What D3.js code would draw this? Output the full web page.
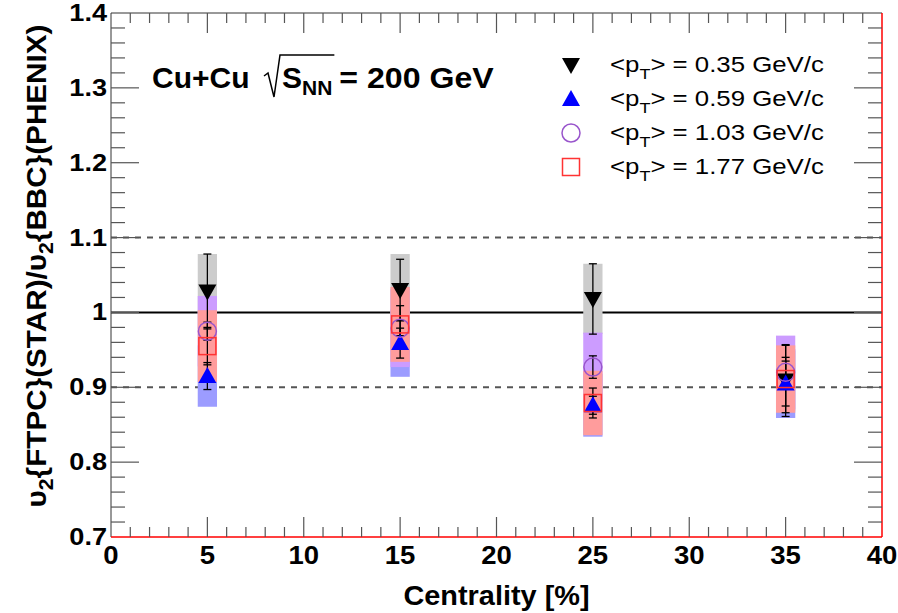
<!DOCTYPE html>
<html>
<head>
<meta charset="utf-8">
<script src="https://cdn.jsdelivr.net/npm/d3@7"></script>
<style>
  body { margin: 0; background: #fff; }
  text { font-family: "Liberation Sans", Arial, sans-serif; }
</style>
</head>
<body>
<div id="chart"></div>
<script>
// centrality bins and ratio values per <pT> bin
var centrality = [5, 15, 25, 35];
var ptLabels = ["0.35", "0.59", "1.03", "1.77"];

var ratio035 = [1.028, 1.030, 1.018, 0.909];
var stat035 = [0.050, 0.041, 0.047, 0.048];
var sys035 = [0.050, 0.048, 0.047, 0.040];

var ratio059 = [0.915, 0.959, 0.876, 0.905];
var stat059 = [0.018, 0.020, 0.012, 0.030];
var sys059 = [0.041, 0.045, 0.042, 0.046];

var ratio103 = [0.975, 0.979, 0.927, 0.920];
var stat103 = [0.012, 0.010, 0.015, 0.020];
var sys103 = [0.047, 0.052, 0.046, 0.049];

var ratio177 = [0.955, 0.984, 0.879, 0.911];
var stat177 = [0.025, 0.025, 0.020, 0.045];
var sys177 = [0.048, 0.050, 0.043, 0.045];

var xTicks = [0, 5, 10, 15, 20, 25, 30, 35, 40];
var yTicks = [0.7, 0.8, 0.9, 1, 1.1, 1.2, 1.3, 1.4];
var refLines = [0.9, 1.0, 1.1];

var width = 898, height = 613;
var fL = 111, fR = 882, fT = 13, fB = 537;
var sx = 1.1; // horizontal stretch of the text

var x = d3.scaleLinear().domain([0, 40]).range([fL, fR]);
var y = d3.scaleLinear().domain([0.7, 1.4]).range([fB, fT]);

var svg = d3.select('#chart').append('svg').attr('width', width).attr('height', height);

// series in drawing order of the systematic boxes
var series = [
    {v: ratio035, stat: stat035, sys: sys035, box: '#cccccc', marker: 'down'},
    {v: ratio059, stat: stat059, sys: sys059, box: '#9c9cff', marker: 'up'},
    {v: ratio103, stat: stat103, sys: sys103, box: '#cc9cff', marker: 'circle'},
    {v: ratio177, stat: stat177, sys: sys177, box: '#ff9c9c', marker: 'square'}
];

// reference lines
svg.selectAll('line.ref')
    .data(refLines)
    .enter()
    .append('line')
    .attr('x1', fL).attr('x2', fR)
    .attr('y1', function (d) { return y(d); })
    .attr('y2', function (d) { return y(d); })
    .attr('stroke', function (d) { return d === 1 ? '#000' : '#555'; })
    .attr('stroke-width', 2)
    .attr('stroke-dasharray', function (d) { return d === 1 ? null : '6,6'; });

// systematic boxes
series.forEach(function (s) {
    svg.selectAll(null)
        .data(centrality)
        .enter()
        .append('rect')
        .attr('x', function (d) { return x(d - 0.5); })
        .attr('width', x(1) - x(0))
        .attr('y', function (d, i) { return y(s.v[i] + s.sys[i]); })
        .attr('height', function (d, i) { return y(s.v[i] - s.sys[i]) - y(s.v[i] + s.sys[i]); })
        .attr('fill', s.box);
});

// stat error bars
series.forEach(function (s) {
    var g = svg.selectAll(null).data(centrality).enter().append('g');
    g.append('line')
        .attr('x1', function (d) { return x(d); })
        .attr('x2', function (d) { return x(d); })
        .attr('y1', function (d, i) { return y(s.v[i] + s.stat[i]); })
        .attr('y2', function (d, i) { return y(s.v[i] - s.stat[i]); })
        .attr('stroke', '#000').attr('stroke-width', 1.3);
    [1, -1].forEach(function (sg) {
        g.append('line')
            .attr('x1', function (d) { return x(d) - 4; })
            .attr('x2', function (d) { return x(d) + 4; })
            .attr('y1', function (d, i) { return y(s.v[i] + sg * s.stat[i]); })
            .attr('y2', function (d, i) { return y(s.v[i] + sg * s.stat[i]); })
            .attr('stroke', '#000').attr('stroke-width', 1.3);
    });
});

function drawMarker(sel, type) {
    if (type === 'down') {
        sel.append('path').attr('d', 'M-9,-7L9,-7L0,9Z').attr('fill', '#000');
    } else if (type === 'up') {
        sel.append('path').attr('d', 'M-9,7L9,7L0,-9Z').attr('fill', '#0000ff');
    } else if (type === 'circle') {
        sel.append('circle').attr('r', 9).attr('fill', 'none')
            .attr('stroke', '#9955cc').attr('stroke-width', 1.5);
    } else {
        sel.append('rect').attr('x', -8.5).attr('y', -8.5).attr('width', 17).attr('height', 17)
            .attr('fill', 'none').attr('stroke', '#ff3333').attr('stroke-width', 1.5);
    }
}

// markers
series.forEach(function (s) {
    var m = svg.selectAll(null).data(centrality).enter().append('g')
        .attr('transform', function (d, i) { return 'translate(' + x(d) + ',' + y(s.v[i]) + ')'; });
    drawMarker(m, s.marker);
});

// frame
svg.append('line').attr('x1', fL).attr('x2', fR).attr('y1', fT).attr('y2', fT).attr('stroke', '#333');
svg.append('line').attr('x1', fL).attr('x2', fL).attr('y1', fT).attr('y2', fB).attr('stroke', '#333');
svg.append('line').attr('x1', fR).attr('x2', fR).attr('y1', fT).attr('y2', fB).attr('stroke', '#ff0000').attr('stroke-width', 1.5);
svg.append('line').attr('x1', fL).attr('x2', fR).attr('y1', fB).attr('y2', fB).attr('stroke', '#ff0000').attr('stroke-width', 1.5);

// ticks
var xMinor = d3.range(1, 40).filter(function (d) { return d % 5 !== 0; });
var yMinor = d3.range(1, 35).map(function (d) { return 0.7 + d * 0.02; });
function tickLines(data, f) {
    svg.selectAll(null).data(data).enter().append('line').each(f)
        .attr('stroke', '#555').attr('stroke-width', 1.2);
}
tickLines(xTicks.slice(1, -1), function (d) {
    d3.select(this).attr('x1', x(d)).attr('x2', x(d)).attr('y1', fB).attr('y2', fB - 20);
});
tickLines(xTicks.slice(1, -1), function (d) {
    d3.select(this).attr('x1', x(d)).attr('x2', x(d)).attr('y1', fT).attr('y2', fT + 20);
});
tickLines(xMinor, function (d) {
    d3.select(this).attr('x1', x(d)).attr('x2', x(d)).attr('y1', fB).attr('y2', fB - 10);
});
tickLines(xMinor, function (d) {
    d3.select(this).attr('x1', x(d)).attr('x2', x(d)).attr('y1', fT).attr('y2', fT + 10);
});
function yLen(d) {
    return Math.abs(Math.round(d * 10) - d * 10) < 1e-6 ? 28 : 14;
}
tickLines(yMinor, function (d) {
    d3.select(this).attr('x1', fL).attr('x2', fL + yLen(d)).attr('y1', y(d)).attr('y2', y(d));
});
tickLines(yMinor, function (d) {
    d3.select(this).attr('x1', fR).attr('x2', fR - yLen(d)).attr('y1', y(d)).attr('y2', y(d));
});

// tick labels
svg.selectAll(null).data(xTicks).enter().append('text')
    .attr('transform', function (d) { return 'translate(' + x(d) + ',' + (fB + 27) + ') scale(' + sx + ',1)'; })
    .attr('text-anchor', 'middle')
    .attr('font-size', 25).attr('font-weight', 'bold')
    .text(function (d) { return d; });

svg.selectAll(null).data(yTicks).enter().append('text')
    .attr('transform', function (d) { return 'translate(' + (fL - 4) + ',' + (y(d) + 8) + ') scale(' + 1.13 + ',1)'; })
    .attr('text-anchor', 'end')
    .attr('font-size', 24).attr('font-weight', 'bold')
    .text(function (d) { return d === 1 ? '1' : d3.format('.1f')(d); });

// axis titles
svg.append('text')
    .attr('transform', 'translate(' + ((fL + fR) / 2) + ',605) scale(1.07,1)')
    .attr('text-anchor', 'middle')
    .attr('font-size', 27).attr('font-weight', 'bold')
    .text('Centrality [%]');

var yt = svg.append('text')
    .attr('transform', 'translate(46,266) rotate(-90) scale(1.06,1)')
    .attr('text-anchor', 'middle')
    .attr('font-size', 28).attr('font-weight', 'bold');
yt.append('tspan').text('υ');
yt.append('tspan').attr('dy', 7).attr('font-size', 20).text('2');
yt.append('tspan').attr('dy', -7).text('{FTPC}(STAR)/υ');
yt.append('tspan').attr('dy', 7).attr('font-size', 20).text('2');
yt.append('tspan').attr('dy', -7).text('{BBC}(PHENIX)');

// collision label
svg.append('text').attr('x', 152).attr('y', 88)
    .attr('font-size', 30).attr('font-weight', 'bold').text('Cu+Cu');
var sn = svg.append('text').attr('x', 282).attr('y', 88)
    .attr('font-size', 30).attr('font-weight', 'bold');
sn.append('tspan').text('S');
sn.append('tspan').attr('dy', 7).attr('font-size', 21).text('NN');
var snEnd = 282 + sn.node().getComputedTextLength();
svg.append('path')
    .attr('d', 'M264,76 L268,73 L274,97 L280,55 L' + (snEnd + 2) + ',55')
    .attr('fill', 'none').attr('stroke', '#000').attr('stroke-width', 1.5);
svg.append('text')
    .attr('transform', 'translate(' + (snEnd + 7) + ',88) scale(1.07,1)')
    .attr('font-size', 30).attr('font-weight', 'bold').text('= 200 GeV');

// legend
var legend = svg.selectAll(null).data(series).enter().append('g')
    .attr('transform', function (d, i) { return 'translate(571,' + (65 + i * 34) + ')'; });
legend.each(function (s) { drawMarker(d3.select(this), s.marker); });
var lt = legend.append('text')
    .attr('transform', 'translate(39,7) scale(1.2,1)')
    .attr('font-size', 21.5);
lt.append('tspan').text('<p');
lt.append('tspan').attr('dy', 7).attr('font-size', 15).text('T');
lt.append('tspan').attr('dy', -7).text(function (s, i) { return '> = ' + ptLabels[i] + ' GeV/c'; });
</script>
</body>
</html>
